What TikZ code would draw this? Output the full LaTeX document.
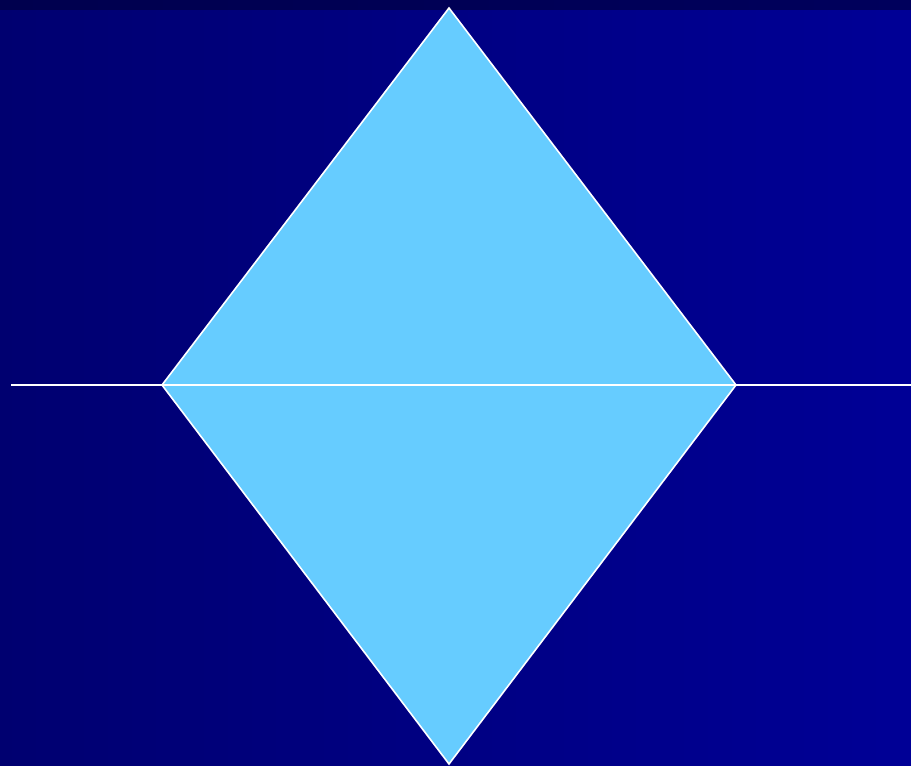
\documentclass[tikz,border=0pt]{standalone}
\definecolor{bgleft}{HTML}{000070}
\definecolor{bgright}{HTML}{000096}
\definecolor{topleft}{HTML}{00004E}
\definecolor{topright}{HTML}{00005C}
\definecolor{kite}{HTML}{66CCFF}
\begin{document}
\begin{tikzpicture}[x=1pt,y=-1pt,
  edge/.style={draw=white,line width=1.6pt,line join=miter}]
\useasboundingbox (0,0) rectangle (911,766);
\shade[left color=bgleft,right color=bgright] (0,0) rectangle (911,766);
\shade[left color=topleft,right color=topright] (0,0) rectangle (911,9);
\coordinate (T) at (449,8);
\coordinate (L) at (162,385);
\coordinate (R) at (736,385);
\coordinate (B) at (449,764);
\coordinate (E1) at (11,385);
\coordinate (E2) at (911,385);
\fill[kite] (T) -- (R) -- (B) -- (L) -- cycle;
\draw[edge] (L) -- (T) -- (R) -- (B) -- cycle;
\draw[edge] (E1) -- (E2);
\end{tikzpicture}
\end{document}
